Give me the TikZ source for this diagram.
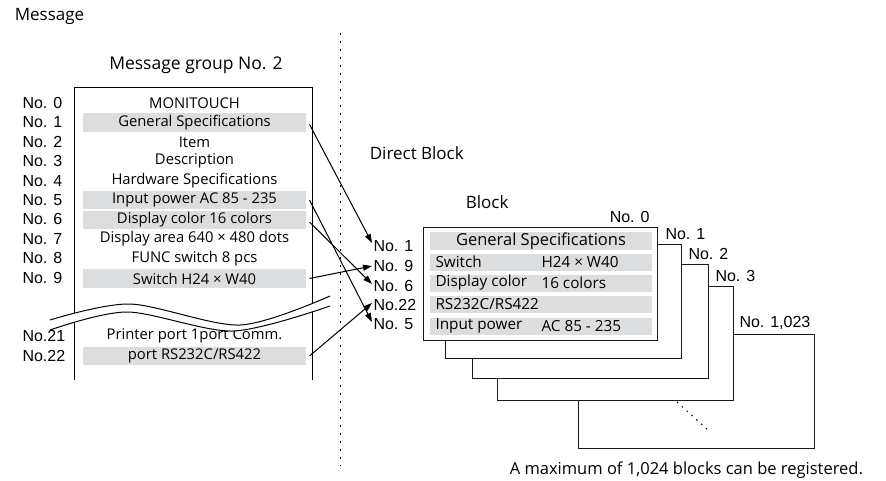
\documentclass[tikz,border=0pt]{standalone}
\usepackage{fontspec}
\setmainfont{Open Sans}
\newfontfamily\arialfont{Liberation Sans}
\usetikzlibrary{arrows.meta}
\definecolor{bandgray}{RGB}{220,221,222}
\tikzset{
  >={Stealth[length=9pt,width=6pt,inset=0pt]},
  numlbl/.style={font=\arialfont\fontsize{16}{18}\selectfont, inner sep=1pt},
  rowtxt/.style={font=\fontsize{14.8}{17}\selectfont, inner sep=0pt},
  band/.style={rowtxt, fill=bandgray, minimum width=223pt, minimum height=18.5pt},
  blktxt/.style={font=\fontsize{15.3}{18}\selectfont, inner sep=0pt, anchor=west},
  blkband/.style={blktxt, font=\fontsize{16.5}{19}\selectfont, anchor=center, fill=bandgray, minimum width=222pt, minimum height=17pt},
  blk/.style={draw=black!90, fill=white, minimum width=236pt, minimum height=114pt, anchor=north west, inner sep=0pt},
}
\begin{document}
\begin{tikzpicture}[x=1pt,y=-1pt,line width=1pt]
\useasboundingbox (0,0) rectangle (886,481);

% Titulos
\node[anchor=west, font=\fontsize{17}{20}\selectfont] (msg) at (11,16) {Message};
\node[font=\fontsize{17.5}{20}\selectfont] (grp) at (196,65) {Message group No. 2};
\node[anchor=west, font=\fontsize{17}{20}\selectfont] (direct) at (366,153) {Direct Block};
\node[anchor=west, font=\fontsize{17}{20}\selectfont] (blocktitle) at (462,202) {Block};

% Grupo de mensajes
\draw (74,380) -- (74,88) -- (312,88) -- (312,380);
\foreach \i in {0,...,9}
  \node[numlbl, anchor=west] (n\i) at (21,{103+19.4*\i}) {No. \i};
\node[numlbl, anchor=west] (n21) at (21,336) {No.21};
\node[numlbl, anchor=west] (n22) at (21,356) {No.22};

\node[rowtxt] (r0) at (194.5,103) {MONITOUCH};
\node[band] (r1) at (194.5,122.4) {General Specifications};
\node[rowtxt] (r2) at (194.5,141.8) {Item};
\node[rowtxt] (r3) at (194.5,161.2) {Description};
\node[rowtxt] (r4) at (194.5,180.6) {Hardware Specifications};
\node[band] (r5) at (194.5,200) {Input power AC 85 - 235};
\node[band] (r6) at (194.5,220) {Display color 16 colors};
\node[rowtxt] (r7) at (194.5,238.8) {Display area 640 × 480 dots};
\node[rowtxt] (r8) at (194.5,258.2) {FUNC switch 8 pcs};
\node[band] (r9) at (194.5,278.5) {Switch H24 × W40};
\node[rowtxt] (r21) at (194.5,336) {Printer port 1port Comm.};
\node[band] (r22) at (194.5,356) {port RS232C/RS422};

% Corte
\fill[white] plot[smooth] coordinates {(50,320) (130,304) (240,325) (330,296)}
  -- plot[smooth] coordinates {(330,306) (233,331) (127,312) (50,330)} -- cycle;
\draw plot[smooth] coordinates {(50,320) (130,304) (240,325) (330,296)};
\draw plot[smooth] coordinates {(50,330) (127,312) (233,331) (330,306)};

% Separador
\draw[dash pattern=on 2pt off 6pt, line width=1.3pt] (340.7,33) -- (340.7,466);

% Bloques
\node[blk] (b1023) at (578,334) {};
\node[blk] (b3) at (497,286) {};
\node[blk] (b2) at (472,264) {};
\node[blk] (b1) at (445,244) {};
\node[blk, minimum width=234pt, minimum height=113pt] (b0) at (423,227) {};

\node[numlbl, anchor=south east] (k0) at ([xshift=-7pt,yshift=3pt]b0.north east) {No. 0};
\node[numlbl, anchor=south west] (k1) at ([xshift=6pt,yshift=3pt]b0.east |- b1.north) {No. 1};
\node[numlbl, anchor=south west] (k2) at ([xshift=5pt,yshift=3pt]b1.east |- b2.north) {No. 2};
\node[numlbl, anchor=south west] (k3) at ([xshift=5pt,yshift=3pt]b2.east |- b3.north) {No. 3};
\node[numlbl, anchor=south west] (k1023) at ([xshift=4pt,yshift=3pt]b3.east |- b1023.north) {No. 1,023};
\draw[dash pattern=on 1.5pt off 5pt] (677,402) -- (708,430);

% Contenido del bloque No. 0
\node[blkband] (g0) at (541,241) {General Specifications};
\node[blkband] (g1) at (541,262) {};
\node[blkband] (g2) at (541,283) {};
\node[blkband] (g3) at (541,304.5) {};
\node[blkband] (g4) at (541,326) {};
\node[blktxt] (s1) at (435,262) {Switch};
\node[blktxt] (v1) at (541,262) {H24 × W40};
\node[blktxt] (s2) at (435,283) {Display color};
\node[blktxt] (v2) at (541,283) {16 colors};
\node[blktxt] (s3) at (435,304.5) {RS232C/RS422};
\node[blktxt] (s4) at (435,326) {Input power};
\node[blktxt] (v4) at (541,326) {AC 85 - 235};

% Direcciones
\node[numlbl, anchor=west] (d1) at (372,246) {No. 1};
\node[numlbl, anchor=west] (d9) at (372,266) {No. 9};
\node[numlbl, anchor=west] (d6) at (372,286) {No. 6};
\node[numlbl, anchor=west] (d22) at (372,305) {No.22};
\node[numlbl, anchor=west] (d5) at (372,324) {No. 5};

\draw[->] ([xshift=3pt,yshift=-2pt]r1.east) -- ([yshift=3pt]d1.west);
\draw[->] ([xshift=3pt]r9.east) -- (d9.west);
\draw[->] ([xshift=3pt,yshift=-2pt]r6.east) -- ([yshift=2pt]d6.west);
\draw[->] ([xshift=3pt]r22.east) -- ([yshift=2pt]d22.west);
\draw[->] ([xshift=3pt]r5.east) -- ([yshift=2pt]d5.west);

\node[anchor=west, font=\fontsize{16.5}{19}\selectfont] (note) at (506,470) {A maximum of 1,024 blocks can be registered.};
\end{tikzpicture}
\end{document}
